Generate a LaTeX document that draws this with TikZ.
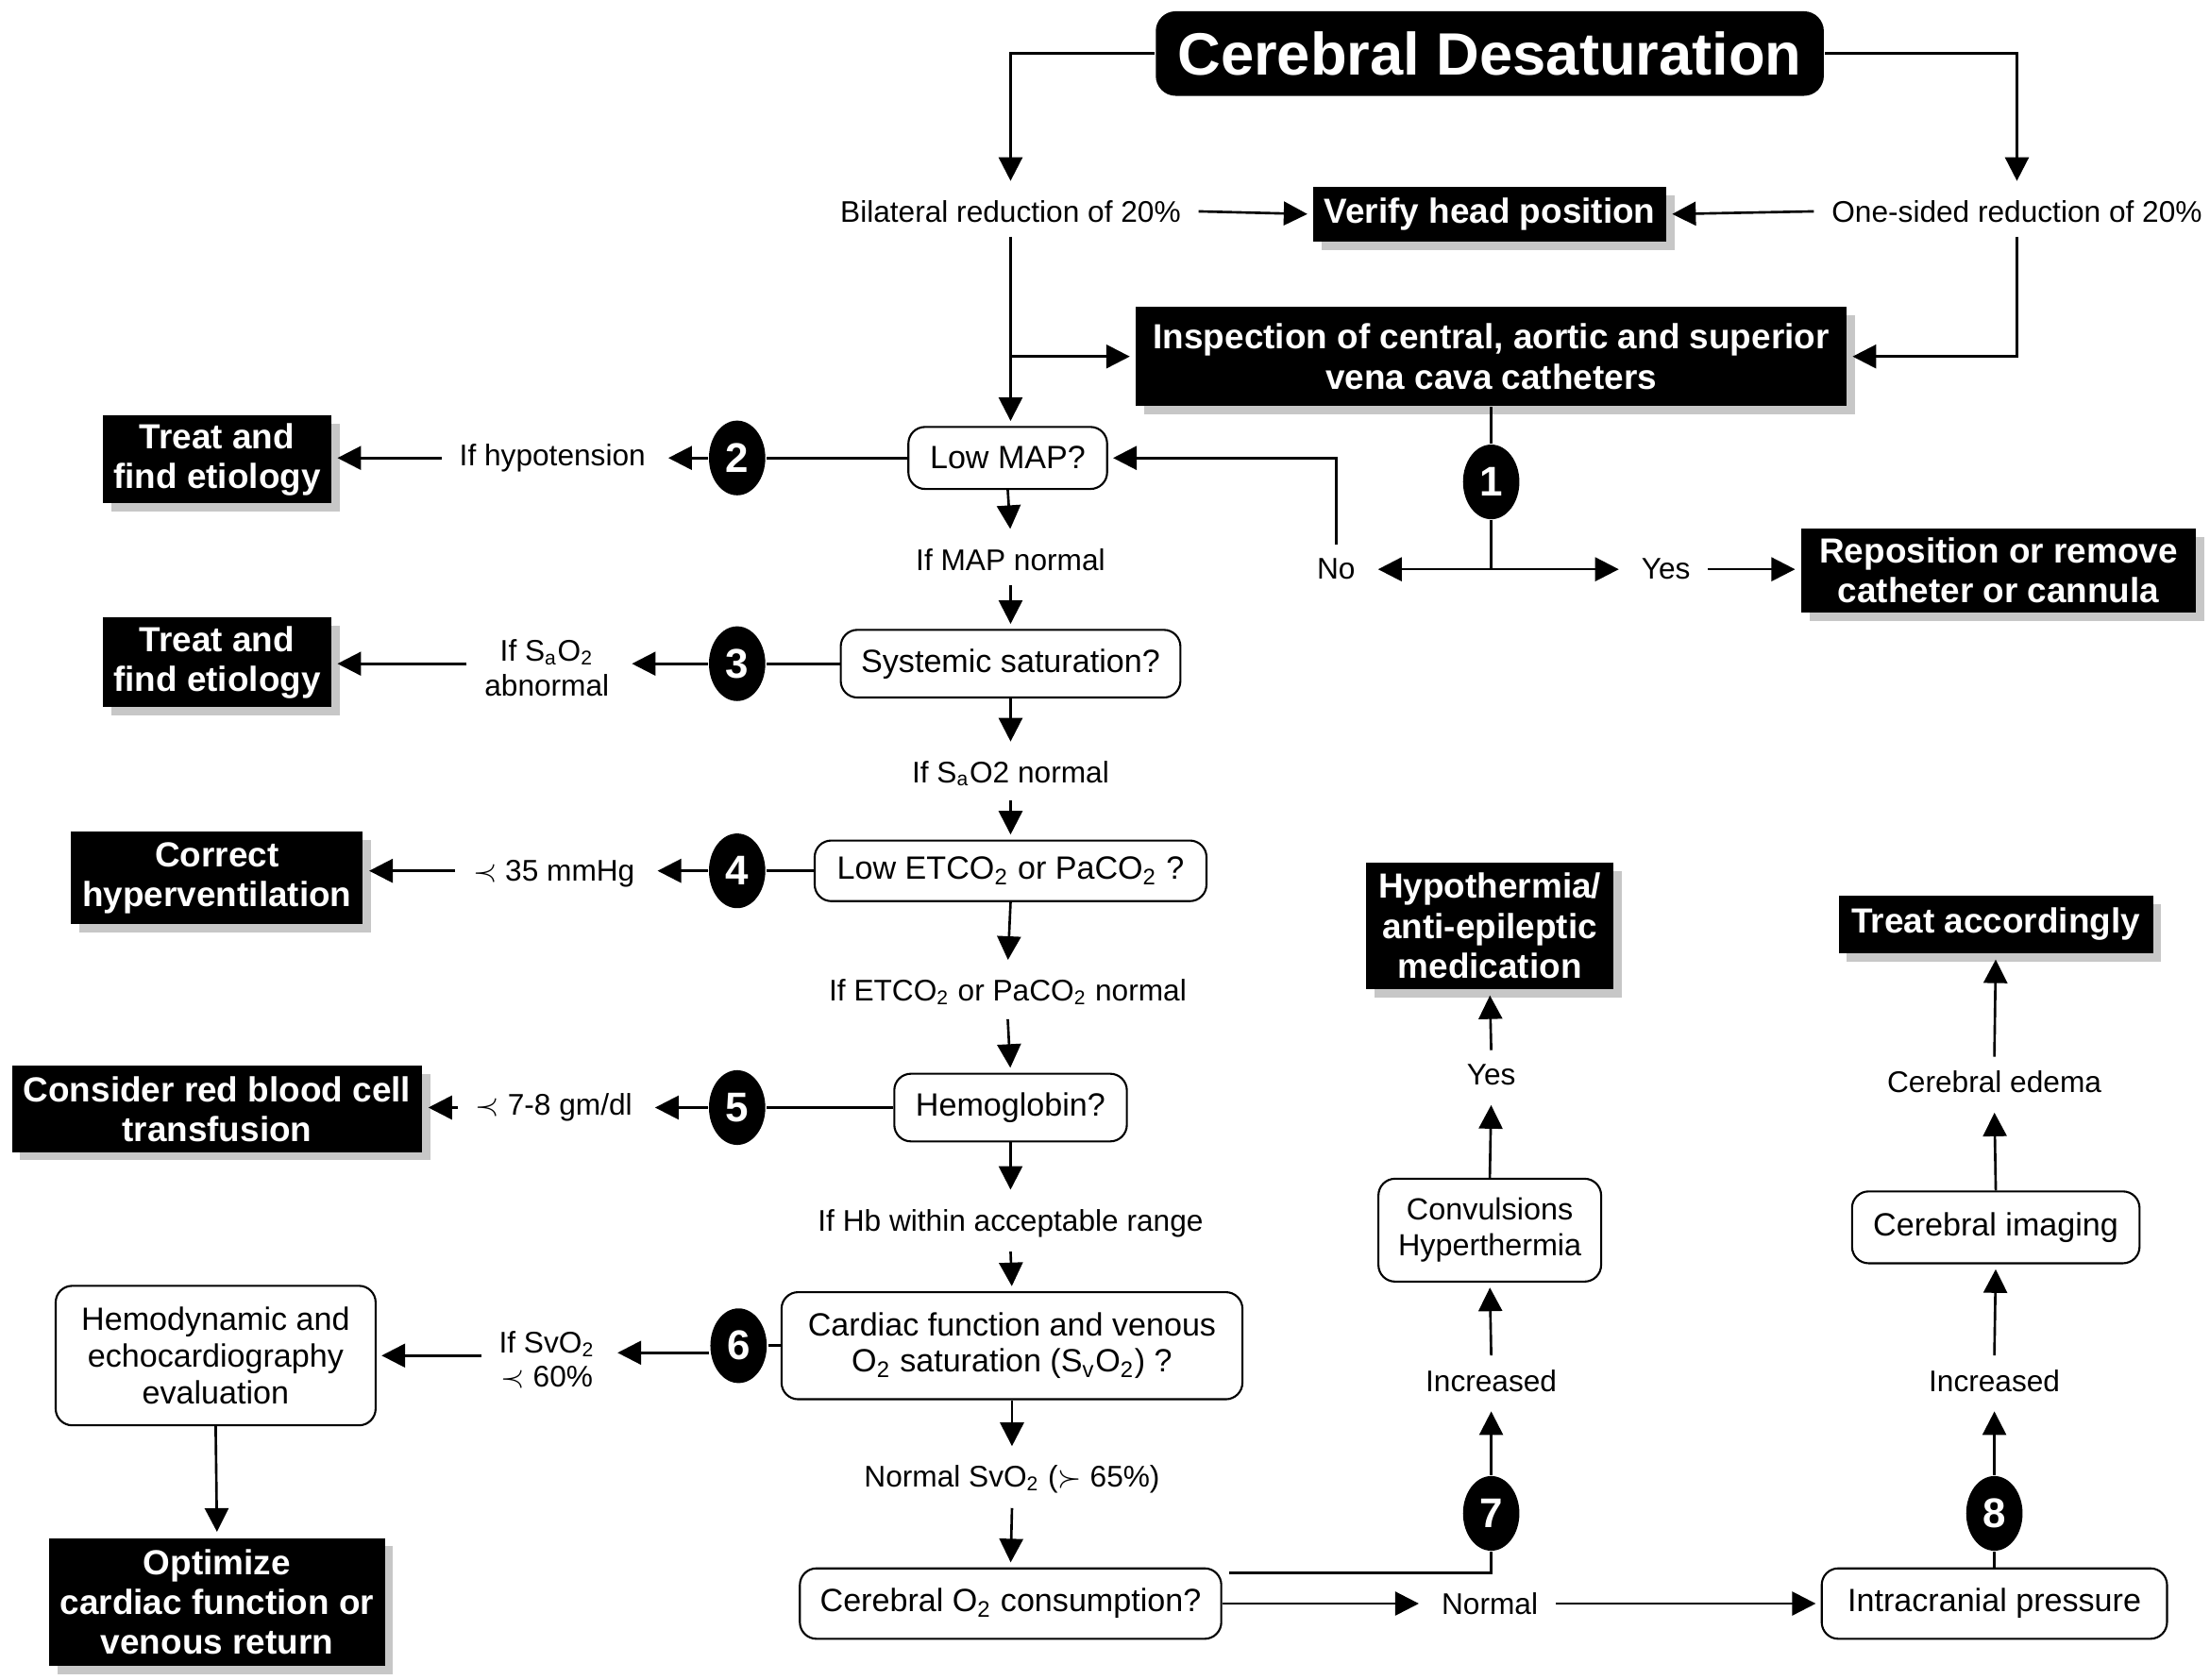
\documentclass[tikz,border=0pt]{standalone}
\usepackage{fontspec}
\setmainfont{Liberation Sans}
\usetikzlibrary{arrows.meta,shadows,shapes.geometric,calc}
\def\u{0.01493cm}
\newcommand\sbs[1]{\textsubscript{#1}}
\begin{document}
\begin{tikzpicture}[x=0.01493cm,y=-0.01493cm,line width=0.75pt,
  every node/.style={font=\fontsize{9}{10.3}\selectfont},
  blkbase/.style={fill=black, text=white, font=\fontsize{10.5}{12}\selectfont\bfseries, align=center, inner sep=0pt},
  blk/.style={blkbase, drop shadow={shadow xshift=2.5pt,shadow yshift=-2.5pt,fill=black!22,opacity=1}},
  wbox/.style={draw, line width=0.6pt, rounded corners=5pt, fill=white, align=center, inner sep=0pt, font=\fontsize{9.7}{11}\selectfont},
  sz/.style 2 args={minimum width=#1*\u, minimum height=#2*\u},
  num/.style={ellipse, fill=black, text=white, font=\fontsize{12.5}{12.5}\selectfont\bfseries, minimum width=40*\u, minimum height=53*\u, inner sep=0pt},
  lbl/.style={align=center, inner xsep=5pt, inner ysep=4pt},
  arr/.style={-{Triangle[length=2.5mm,width=2.5mm]}, shorten >=1.5pt},
  arrb/.style={{Triangle[length=2.5mm,width=2.5mm]}-{Triangle[length=2.5mm,width=2.5mm]}, shorten >=1.5pt, shorten <=1.5pt}
]
\useasboundingbox (0,0) rectangle (1568,1192);
\fill[white] (0,0) rectangle (1568,1192);

% black boxes
\node[blkbase, rounded corners=6pt, sz={474}{60}, font=\fontsize{18}{20}\selectfont\bfseries] (title) at (1057,38) {Cerebral Desaturation};
\node[blk, sz={250}{39}] (verify) at (1057,152) {Verify head position};
\node[blk, sz={504}{70}] (insp) at (1058,253) {Inspection of central, aortic and superior\\vena cava catheters};
\node[blk, sz={280}{60}] (repo) at (1418,405) {Reposition or remove\\catheter or cannula};
\node[blk, sz={162}{62}] (treat1) at (154,326) {Treat and\\find etiology};
\node[blk, sz={162}{64}] (treat2) at (154,470) {Treat and\\find etiology};
\node[blk, sz={207}{66}] (correct) at (154,623) {Correct\\hyperventilation};
\node[blk, sz={291}{61}] (consider) at (154,787) {Consider red blood cell\\transfusion};
\node[blk, sz={238}{91}] (optim) at (154,1137) {Optimize\\cardiac function or\\venous return};
\node[blk, sz={175}{90}] (hypoth) at (1057,657) {Hypothermia/\\anti-epileptic\\medication};
\node[blk, sz={223}{41}] (treatacc) at (1416,656) {Treat accordingly};

% white boxes
\node[wbox, sz={141}{44}] (lowmap) at (715,325) {Low MAP?};
\node[wbox, sz={241}{48}] (sys) at (717,471) {Systemic saturation?};
\node[wbox, sz={278}{43}] (etco) at (717,618) {Low ETCO\sbs{2} or PaCO\sbs{2} ?};
\node[wbox, sz={165}{48}] (hb) at (717,786) {Hemoglobin?};
\node[wbox, sz={327}{76}] (card) at (718,955) {Cardiac function and venous\\O\sbs{2} saturation (S\sbs{v}O\sbs{2}) ?};
\node[wbox, sz={227}{99}] (hemo) at (153,962) {Hemodynamic and\\echocardiography\\evaluation};
\node[wbox, sz={299}{50}] (cero) at (717,1138) {Cerebral O\sbs{2} consumption?};
\node[wbox, sz={158}{73}, font=\fontsize{9.2}{10.8}\selectfont] (conv) at (1057,873) {Convulsions\\Hyperthermia};
\node[wbox, sz={204}{51}] (img) at (1416,871) {Cerebral imaging};
\node[wbox, sz={245}{50}] (icp) at (1415,1138) {Intracranial pressure};

% numbered ellipses
\node[num] (c1) at (1058,342) {1};
\node[num] (c2) at (523,325) {2};
\node[num] (c3) at (523,471) {3};
\node[num] (c4) at (523,618) {4};
\node[num] (c5) at (523,786) {5};
\node[num] (c6) at (524,955) {6};
\node[num] (c7) at (1058,1074) {7};
\node[num] (c8) at (1415,1074) {8};

% labels
\node[lbl] (bil) at (717,150) {Bilateral reduction of 20\%};
\node[lbl] (one) at (1431,150) {One-sided reduction of 20\%};
\node[lbl] (hypot) at (392,325) {If hypotension};
\node[lbl] (ifmap) at (717,397) {If MAP normal};
\node[lbl] (no) at (948,404) {No};
\node[lbl] (yes) at (1182,404) {Yes};
\node[lbl] (saoab) at (388,474) {If S\sbs{a}O\sbs{2}\\abnormal};
\node[lbl] (ifsao) at (717,549) {If S\sbs{a}O2 normal};
\node[lbl] (mmhg) at (393,620) {$\prec$ 35 mmHg};
\node[lbl] (ifetco) at (715,704) {If ETCO\sbs{2} or PaCO\sbs{2} normal};
\node[lbl] (gmdl) at (393,786) {$\prec$ 7-8 gm/dl};
\node[lbl] (ifhb) at (717,868) {If Hb within acceptable range};
\node[lbl] (svo) at (388,965) {If SvO\sbs{2}\\$\prec$ 60\%};
\node[lbl] (nsvo) at (718,1050) {Normal SvO\sbs{2} ($\succ$ 65\%)};
\node[lbl] (normal) at (1057,1138) {Normal};
\node[lbl] (inc1) at (1058,980) {Increased};
\node[lbl] (yes2) at (1058,763) {Yes};
\node[lbl] (inc2) at (1415,980) {Increased};
\node[lbl] (edema) at (1415,768) {Cerebral edema};

% connectors top
\draw[arr] (title.west) -| (bil.north);
\draw[arr] (title.east) -| (one.north);
\draw[arr] (bil.east) -- (verify.west);
\draw[arr] (one.west) -- (verify.east);
\draw[arr] (bil.south) -- (bil.south |- lowmap.north);
\draw[arr] (bil.south |- insp.west) -- (insp.west);
\draw[arr] (one.south) |- (insp.east);
\draw (insp.south) -- (c1.north);
\coordinate (j1) at (c1.south |- no.east);
\draw (c1.south) -- (j1);
\draw[arrb] (no.east) -- (yes.west);
\draw[arr] (yes.east) -- (yes.east -| repo.west);
\draw[arr] (no.north) |- (lowmap.east);

% left chain
\draw (lowmap.west) -- (c2.east);
\draw[arr] (c2.west) -- (c2.west -| hypot.east);
\draw[arr] (hypot.west) -- (hypot.west -| treat1.east);
\draw (sys.west) -- (c3.east);
\draw[arr] (c3.west) -- (c3.west -| saoab.east);
\draw[arr] (saoab.west |- c3.west) -- (c3.west -| treat2.east);
\draw (etco.west) -- (c4.east);
\draw[arr] (c4.west) -- (c4.west -| mmhg.east);
\draw[arr] (mmhg.west |- c4.west) -- (c4.west -| correct.east);
\draw (hb.west) -- (c5.east);
\draw[arr] (c5.west) -- (c5.west -| gmdl.east);
\draw[arr] (gmdl.west |- c5.west) -- (c5.west -| consider.east);
\draw (card.west) -- (c6.east);
\draw[arr] ($(c6.west)+(0,5)$) -- ($(c6.west -| svo.east)+(0,5)$);
\draw[arr] ($(svo.west |- c6.west)+(0,7)$) -- ($(c6.west -| hemo.east)+(0,7)$);
\draw[arr] (hemo.south) -- (optim.north);

% main column
\draw[arr] (lowmap.south) -- (ifmap.north);
\draw[arr] (ifmap.south) -- (sys.north);
\draw[arr] (sys.south) -- (ifsao.north);
\draw[arr] (ifsao.south) -- (etco.north);
\draw[arr] (etco.south) -- (ifetco.north);
\draw[arr] (ifetco.south) -- (hb.north);
\draw[arr] (hb.south) -- (ifhb.north);
\draw[arr] (ifhb.south) -- (card.north);
\draw[arr] (card.south) -- (nsvo.north);
\draw[arr] (nsvo.south) -- (cero.north);

% bottom right
\coordinate (c7in) at ($(cero.east)+(5,-22)$);
\draw (c7in) -| (c7.south);
\draw[arr] (cero.east) -- (normal.west);
\draw[arr] (normal.east) -- (icp.west);
\draw (icp.north) -- (c8.south);
\draw[arr] (c7.north) -- (inc1.south);
\draw[arr] (inc1.north) -- (conv.south);
\draw[arr] (conv.north) -- (yes2.south);
\draw[arr] (yes2.north) -- (hypoth.south);
\draw[arr] (c8.north) -- (inc2.south);
\draw[arr] (inc2.north) -- (img.south);
\draw[arr] (img.north) -- (edema.south);
\draw[arr] (edema.north) -- (treatacc.south);
\end{tikzpicture}
\end{document}
